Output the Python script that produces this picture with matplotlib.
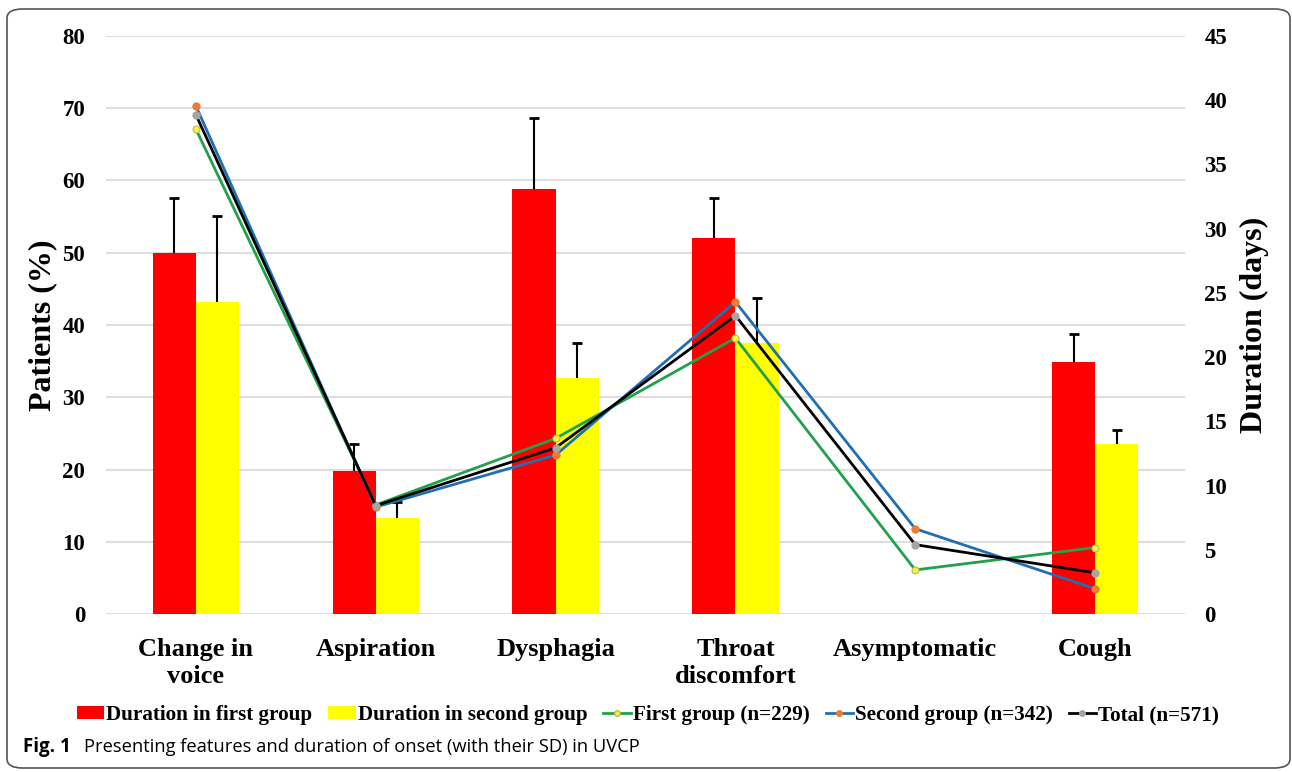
""" Presenting features and duration of onset in UVCP """

import numpy as np
import matplotlib
matplotlib.use('Agg')
import matplotlib.pyplot as plt
from matplotlib.lines import Line2D
from matplotlib.patches import Patch, FancyBboxPatch

# data

categories = ['Change in\nvoice', 'Aspiration', 'Dysphagia', 'Throat\ndiscomfort', 'Asymptomatic', 'Cough']

# durations (days) and their SD
dur_first = [28.1, 11.1, 33.1, 29.3, np.nan, 19.6]
dur_first_sd = [4.3, 2.1, 5.5, 3.1, np.nan, 2.2]
dur_second = [24.3, 7.5, 18.4, 21.1, np.nan, 13.2]
dur_second_sd = [6.7, 1.2, 2.7, 3.5, np.nan, 1.1]

# patients (%)
pct_first = [67.1, 15.1, 24.3, 38.2, 6.1, 9.2]
pct_second = [70.3, 14.8, 22.0, 43.2, 11.8, 3.5]
pct_total = [69.1, 15.0, 23.0, 41.3, 9.6, 5.7]

pct_ticks = np.arange(0, 81, 10)
day_ticks = np.arange(0, 46, 5)

# plots design

plt.rcParams.update({'font.family': 'Liberation Serif', 'font.weight': 'bold'})
RED = '#ff0000'
YELLOW = '#ffff00'
GREEN = '#22a04b'
BLUE = '#1f6fb5'

fig = plt.figure(figsize=(12.92, 7.72), dpi=100)
rect = [106/1292, 1 - 614/772, 1079/1292, 578/772]

# base axis: grid and left scale
ax = fig.add_axes(rect)
x = np.arange(len(categories))
ax.set_xlim(-0.5, len(categories) - 0.5)
ax.set_ylim(0, 80)
ax.set_yticks(pct_ticks)
ax.grid(axis='y', color='#dedede', linewidth=1.5)
ax.set_axisbelow(True)
for s in ax.spines.values():
    s.set_visible(False)
ax.tick_params(axis='y', length=0, pad=15, labelsize=16.5)
ax.tick_params(axis='x', length=0, pad=17, labelsize=19)
ax.set_xticks(x)
ax.set_xticklabels(categories, linespacing=1.25)
ax.set_ylabel('Patients (%)', fontsize=23, fontweight='bold', va='center')
ax.yaxis.set_label_coords(-0.059, 0.5)

# bars: durations on right scale
ax2 = ax.twinx()
ax2.set_ylim(0, 45)
ax2.set_yticks(day_ticks)
for s in ax2.spines.values():
    s.set_visible(False)
ax2.tick_params(axis='y', length=0, pad=14, labelsize=16.5)
w = 0.24
ax2.bar(x - w/2, dur_first, width=w, color=RED)
ax2.bar(x + w/2, dur_second, width=w, color=YELLOW)

# SD: upper whisker only, cap on top
for xs, vals, sd in [(x - w/2, dur_first, dur_first_sd), (x + w/2, dur_second, dur_second_sd)]:
    vals = np.array(vals)
    sd = np.array(sd)
    ax2.errorbar(xs, vals, yerr=[np.zeros(len(xs)), sd],
                 fmt='none', ecolor='black', elinewidth=1.5, capsize=0)
    ax2.plot(xs, vals + sd, linestyle='none', marker='_', markersize=7,
             markeredgewidth=2, color='black')

ax2.set_ylabel('Duration (days)', fontsize=23, fontweight='bold', va='center', rotation=90)
ax2.yaxis.set_label_coords(1.064, 0.5)

# lines: patients on left scale, drawn on top
ax3 = ax.twinx()
ax3.set_ylim(0, 80)
ax3.set_yticks([])
for s in ax3.spines.values():
    s.set_visible(False)
ax3.plot(x, pct_first, color=GREEN, linewidth=2, marker='o', markersize=5,
         markerfacecolor='#f4f43c', markeredgecolor='#b8b86a', markeredgewidth=0.8)
ax3.plot(x, pct_second, color=BLUE, linewidth=2, marker='o', markersize=5,
         markerfacecolor='#ed7d31', markeredgecolor='#ed7d31')
ax3.plot(x, pct_total, color='black', linewidth=2, marker='o', markersize=5,
         markerfacecolor='#a5a5a5', markeredgecolor='#a5a5a5')

# legend

handles = [
    Patch(facecolor=RED, label='Duration in first group'),
    Patch(facecolor=YELLOW, label='Duration in second group'),
    Line2D([], [], color=GREEN, linewidth=2, marker='o', markersize=4,
           markerfacecolor='#f4f43c', markeredgecolor='#b8b86a', label='First group (n=229)'),
    Line2D([], [], color=BLUE, linewidth=2, marker='o', markersize=4,
           markerfacecolor='#ed7d31', markeredgecolor='#ed7d31', label='Second group (n=342)'),
    Line2D([], [], color='black', linewidth=2, marker='o', markersize=4,
           markerfacecolor='#a5a5a5', markeredgecolor='#a5a5a5', label='Total (n=571)'),
]
fig.legend(handles=handles, loc='center', bbox_to_anchor=(648/1292, 1 - 715/772),
           ncol=5, frameon=False, fontsize=15.2, handlelength=1.3, handleheight=0.6,
           handletextpad=0.1, columnspacing=0.75)

# caption and frame

fig.text(23/1292, 1 - 747/772, 'Fig. 1', fontsize=13.5, fontweight='bold',
         family='Open Sans', va='center', ha='left')
fig.text(84/1292, 1 - 747/772, 'Presenting features and duration of onset (with their SD) in UVCP',
         fontsize=13.2, fontweight='normal', family='Open Sans', va='center', ha='left')
frame = FancyBboxPatch((7/1292, 4/772), 1283/1292, 759/772,
                       boxstyle='round,pad=0,rounding_size=0.012',
                       transform=fig.transFigure, facecolor='none',
                       edgecolor='#555555', linewidth=1.2)
fig.patches.append(frame)

fig.savefig('out.png', dpi=100)
